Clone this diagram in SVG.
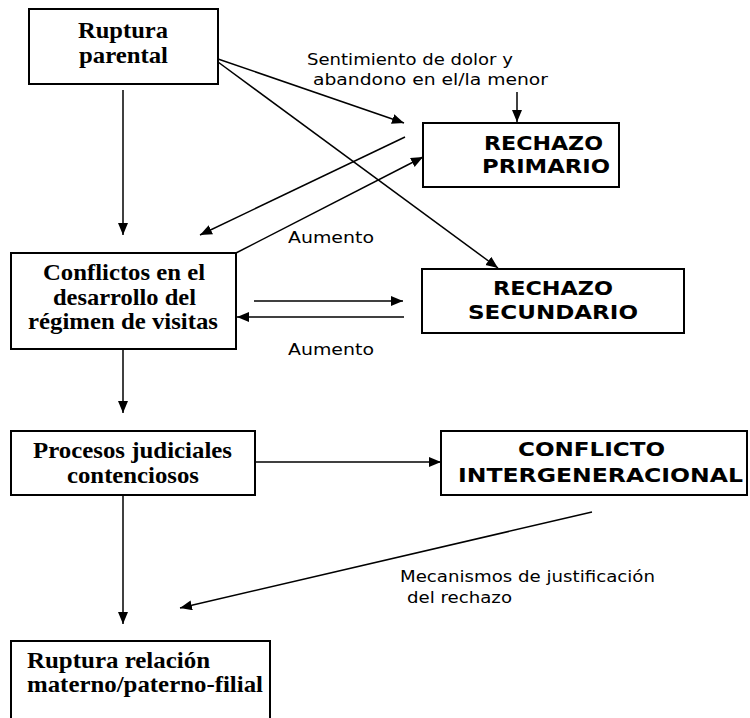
<svg xmlns="http://www.w3.org/2000/svg" width="750" height="718" viewBox="0 0 750 718">
<style>
.box{fill:#fff;stroke:#000;stroke-width:2}
.ser{font-family:"Liberation Serif","Times New Roman",serif;font-weight:bold;font-size:24px;fill:#000}
.cap{font-family:"DejaVu Sans",Verdana,sans-serif;font-weight:bold;font-size:19px;fill:#000}
.lbl{font-family:"DejaVu Sans",Tahoma,sans-serif;font-size:15px;fill:#000}
.con line{stroke:#000;stroke-width:1.5;marker-end:url(#ah)}
</style>
<defs>
<marker id="ah" markerUnits="userSpaceOnUse" markerWidth="14" markerHeight="11" refX="12" refY="5" orient="auto">
<path d="M0,0 L12,5 L0,10 z" fill="#000"/>
</marker>
</defs>
<rect width="750" height="718" fill="#fff"/>

<g id="ruptura-parental">
<rect class="box" x="29" y="9" width="189" height="75"/>
<text class="ser" x="78" y="38" textLength="90" lengthAdjust="spacingAndGlyphs">Ruptura</text>
<text class="ser" x="79" y="63" textLength="89" lengthAdjust="spacingAndGlyphs">parental</text>
</g>

<g id="rechazo-primario">
<rect class="box" x="423" y="123" width="196" height="64"/>
<text class="cap" x="484" y="150" textLength="119" lengthAdjust="spacingAndGlyphs">RECHAZO</text>
<text class="cap" x="482" y="173" textLength="128" lengthAdjust="spacingAndGlyphs">PRIMARIO</text>
</g>

<g id="conflictos-visitas">
<rect class="box" x="11" y="253" width="225" height="96"/>
<text class="ser" x="43" y="280" textLength="162" lengthAdjust="spacingAndGlyphs">Conflictos en el</text>
<text class="ser" x="53" y="305" textLength="143" lengthAdjust="spacingAndGlyphs">desarrollo del</text>
<text class="ser" x="28" y="329" textLength="190" lengthAdjust="spacingAndGlyphs">régimen de visitas</text>
</g>

<g id="rechazo-secundario">
<rect class="box" x="422" y="269" width="262" height="64"/>
<text class="cap" x="493" y="295" textLength="120" lengthAdjust="spacingAndGlyphs">RECHAZO</text>
<text class="cap" x="468" y="319" textLength="170" lengthAdjust="spacingAndGlyphs">SECUNDARIO</text>
</g>

<g id="procesos-judiciales">
<rect class="box" x="11" y="431" width="244" height="64"/>
<text class="ser" x="33" y="458" textLength="199" lengthAdjust="spacingAndGlyphs">Procesos judiciales</text>
<text class="ser" x="67" y="483" textLength="132" lengthAdjust="spacingAndGlyphs">contenciosos</text>
</g>

<g id="conflicto-intergeneracional">
<rect class="box" x="441" y="431" width="306" height="64"/>
<text class="cap" x="518" y="456" textLength="147" lengthAdjust="spacingAndGlyphs">CONFLICTO</text>
<text class="cap" x="458" y="482" textLength="285" lengthAdjust="spacingAndGlyphs">INTERGENERACIONAL</text>
</g>

<g id="ruptura-relacion">
<rect class="box" x="11" y="641" width="259" height="100"/>
<text class="ser" x="27" y="668" textLength="183" lengthAdjust="spacingAndGlyphs">Ruptura relación</text>
<text class="ser" x="27" y="692" textLength="236" lengthAdjust="spacingAndGlyphs">materno/paterno-filial</text>
</g>

<g id="labels">
<text class="lbl" x="307" y="65" textLength="206" lengthAdjust="spacingAndGlyphs">Sentimiento de dolor y</text>
<text class="lbl" x="313" y="85" textLength="235" lengthAdjust="spacingAndGlyphs">abandono en el/la menor</text>
<text class="lbl" x="288" y="243" textLength="86" lengthAdjust="spacingAndGlyphs">Aumento</text>
<text class="lbl" x="288" y="355" textLength="86" lengthAdjust="spacingAndGlyphs">Aumento</text>
<text class="lbl" x="400" y="582" textLength="255" lengthAdjust="spacingAndGlyphs">Mecanismos de justificación</text>
<text class="lbl" x="407" y="603" textLength="105" lengthAdjust="spacingAndGlyphs">del rechazo</text>
</g>

<g id="connectors" class="con">
<line x1="123" y1="90" x2="123" y2="235"/>
<line x1="218" y1="59" x2="404" y2="123"/>
<line x1="218" y1="62" x2="498" y2="268"/>
<line x1="405" y1="137" x2="200" y2="235"/>
<line x1="236" y1="253" x2="423" y2="157"/>
<line x1="517" y1="92" x2="517" y2="122"/>
<line x1="254" y1="301" x2="403" y2="301"/>
<line x1="404" y1="317" x2="237" y2="317"/>
<line x1="123" y1="349" x2="123" y2="413"/>
<line x1="255" y1="462" x2="441" y2="462"/>
<line x1="123" y1="495" x2="123" y2="624"/>
<line x1="592" y1="512" x2="180" y2="608"/>
</g>
</svg>
